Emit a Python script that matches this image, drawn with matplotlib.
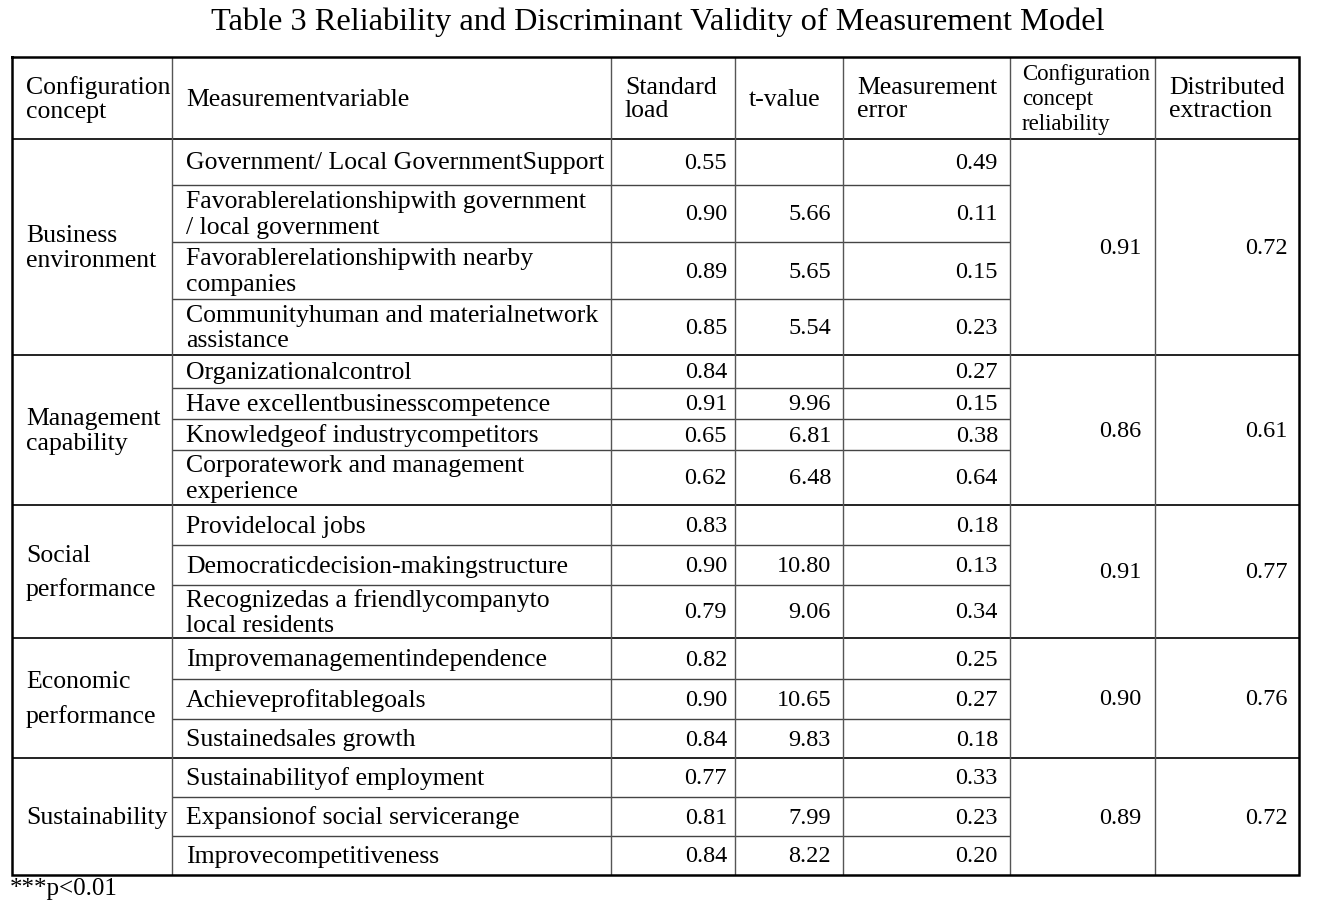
import matplotlib
matplotlib.use("Agg")
import matplotlib.pyplot as plt

# ---------------- data ----------------
title = "Table 3 Reliability and Discriminant Validity of Measurement Model"
headers = ["Configuration\nconcept", "Measurementvariable", "Standard\nload", "t-value",
           "Measurement\nerror", "Configuration\nconcept\nreliability", "Distributed\nextraction"]
groups = ["Business\nenvironment", "Management\ncapability", "Social\nperformance",
          "Economic\nperformance", "Sustainability"]
group_sizes = [4, 4, 3, 3, 3]
variables = [
    "Government/ Local GovernmentSupport",
    "Favorablerelationshipwith government\n/ local government",
    "Favorablerelationshipwith nearby\ncompanies",
    "Communityhuman and materialnetwork\nassistance",
    "Organizationalcontrol",
    "Have excellentbusinesscompetence",
    "Knowledgeof industrycompetitors",
    "Corporatework and management\nexperience",
    "Providelocal jobs",
    "Democraticdecision-makingstructure",
    "Recognizedas a friendlycompanyto\nlocal residents",
    "Improvemanagementindependence",
    "Achieveprofitablegoals",
    "Sustainedsales growth",
    "Sustainabilityof employment",
    "Expansionof social servicerange",
    "Improvecompetitiveness",
]
std_load = [0.55, 0.90, 0.89, 0.85, 0.84, 0.91, 0.65, 0.62, 0.83, 0.90, 0.79,
            0.82, 0.90, 0.84, 0.77, 0.81, 0.84]
t_values = [None, 5.66, 5.65, 5.54, None, 9.96, 6.81, 6.48, None, 10.80, 9.06,
            None, 10.65, 9.83, None, 7.99, 8.22]
meas_error = [0.49, 0.11, 0.15, 0.23, 0.27, 0.15, 0.38, 0.64, 0.18, 0.13, 0.34,
              0.25, 0.27, 0.18, 0.33, 0.23, 0.20]
reliability = [0.91, 0.86, 0.91, 0.90, 0.89]
extraction = [0.72, 0.61, 0.77, 0.76, 0.72]
footnote = "***p<0.01"

# ---------------- layout (pixels) ----------------
W, H = 1319, 911
col_x = [12, 172, 611, 735, 843, 1010, 1155, 1299]
top_y = 57
row_edges = [139, 185, 242, 299, 355, 388, 419, 450, 505, 545, 585, 638,
             679, 719, 758, 797, 836, 875]
group_linespacing = [1.2, 1.2, 1.57, 1.7, 1.0]

FONT = "Liberation Serif"
fs = 18.5
nfs = 17.5
fig = plt.figure(figsize=(W / 100, H / 100), dpi=100)
ax = fig.add_axes([0, 0, 1, 1])
ax.set_xlim(0, W)
ax.set_ylim(H, 0)
ax.axis("off")

def txt(x, y, s, ha="left", size=fs, ls=1.22, dy=1.5, **kw):
    ax.text(x, y + dy, s, ha=ha, va="center", fontsize=size, family=FONT,
            linespacing=ls, color="black", **kw)

# title
txt(W / 2 - 2, 21, title, ha="center", size=23.3)

# header
hy = (top_y + row_edges[0]) / 2
txt(col_x[0] + 14, hy, headers[0], ls=1.1)
txt(col_x[1] + 14, hy, headers[1])
txt(col_x[2] + 14, hy, headers[2], ls=1.1)
txt(col_x[3] + 14, hy, headers[3])
txt(col_x[4] + 14, hy, headers[4], ls=1.1)
txt(col_x[5] + 12, hy, headers[5], size=16.5, ls=1.28)
txt(col_x[6] + 14, hy, headers[6], ls=1.1)

# body rows
for i, var in enumerate(variables):
    y0, y1 = row_edges[i], row_edges[i + 1]
    yc = (y0 + y1) / 2
    txt(col_x[1] + 14, yc, var, ls=1.22)
    txt(col_x[3] - 8, yc, f"{std_load[i]:.2f}", ha="right", size=nfs)
    if t_values[i] is not None:
        txt(col_x[4] - 12, yc, f"{t_values[i]:.2f}", ha="right", size=nfs)
    txt(col_x[5] - 12, yc, f"{meas_error[i]:.2f}", ha="right", size=nfs)

# groups
start = 0
group_bounds = []
for g, n in enumerate(group_sizes):
    y0 = row_edges[start]
    y1 = row_edges[start + n]
    group_bounds.append((y0, y1))
    yc = (y0 + y1) / 2
    txt(col_x[0] + 14, yc, groups[g], ls=group_linespacing[g])
    txt(col_x[6] - 14, yc, f"{reliability[g]:.2f}", ha="right", size=nfs)
    txt(col_x[7] - 11, yc, f"{extraction[g]:.2f}", ha="right", size=nfs)
    start += n

# grid lines
inner_c = "#444444"
group_tops = {b[0] for b in group_bounds} | {b[1] for b in group_bounds}
for y in row_edges:
    if y in group_tops:
        continue
    ax.plot([col_x[1], col_x[5]], [y, y], color=inner_c, lw=1.0, solid_capstyle="butt")
for y in sorted(group_tops):
    if y == row_edges[-1]:
        continue
    ax.plot([col_x[0], col_x[-1]], [y, y], color="#111111", lw=1.3, solid_capstyle="butt")
for x in col_x[1:-1]:
    ax.plot([x, x], [top_y, row_edges[-1]], color="#555555", lw=1.0, solid_capstyle="butt")
ax.plot([col_x[0], col_x[-1], col_x[-1], col_x[0], col_x[0]],
        [top_y, top_y, row_edges[-1], row_edges[-1], top_y],
        color="black", lw=1.8, solid_joinstyle="miter")

# footnote
ax.text(col_x[0] - 2, 889, footnote, ha="left", va="center", fontsize=18,
        family=FONT, color="black")

fig.savefig("out.png", dpi=100)
